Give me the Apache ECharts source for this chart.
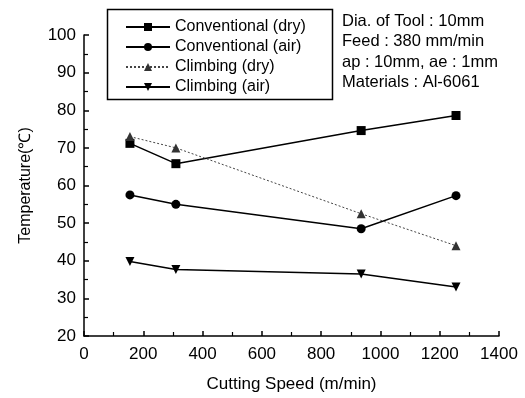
<!DOCTYPE html>
<html><head><meta charset="utf-8">
<script src="https://cdn.jsdelivr.net/npm/echarts@6/dist/echarts.min.js"></script>
<style>html,body{margin:0;padding:0;background:#fff}#c{width:525px;height:398px}</style>
</head><body><div id="c"></div>
<script>
const speeds = [155, 310, 935, 1255];
const convDry = [71.2, 65.8, 74.6, 78.6];
const convAir = [57.5, 55.0, 48.5, 57.3];
const climbDry = [73.0, 70.0, 52.5, 44.0];
const climbAir = [39.8, 37.7, 36.5, 33.0];
const seriesNames = ['Conventional (dry)', 'Conventional (air)', 'Climbing (dry)', 'Climbing (air)'];
const notes = ['Dia. of Tool : 10mm', 'Feed : 380 mm/min', 'ap : 10mm, ae : 1mm', 'Materials : Al-6061'];
const xTitle = 'Cutting Speed (m/min)';
const yTitle = 'Temperature(\u2103)';

const font = 'Liberation Sans, Arial, sans-serif';
const pair = arr => speeds.map((s, i) => [s, arr[i]]);
const chart = echarts.init(document.getElementById('c'), null, {renderer: 'canvas'});
const mk = (name, data, symbol, opts) => Object.assign({
  name, type: 'line', data: pair(data), symbol, symbolSize: 9,
  itemStyle: {color: '#000'}, lineStyle: {color: '#000', width: 1.5}, animation: false
}, opts || {});
chart.setOption({
  animation: false,
  grid: {left: 84, right: 26, top: 35, bottom: 59},
  legend: {
    orient: 'vertical', left: 120, top: 13, itemGap: 2, itemWidth: 44, itemHeight: 10,
    textStyle: {fontFamily: font, fontSize: 16, color: '#000', lineHeight: 18},
    data: seriesNames
  },
  xAxis: {
    type: 'value', min: 0, max: 1400, interval: 200,
    name: xTitle, nameLocation: 'middle', nameGap: 40,
    nameTextStyle: {fontFamily: font, fontSize: 17, color: '#000'},
    axisLine: {lineStyle: {color: '#000', width: 1.5}},
    axisTick: {inside: true, length: 5, lineStyle: {color: '#000', width: 1.5}},
    minorTick: {show: true, splitNumber: 2, length: 4, lineStyle: {color: '#000', width: 1.2}},
    axisLabel: {fontFamily: font, fontSize: 17, color: '#000', margin: 10, formatter: v => String(v)},
    splitLine: {show: false}
  },
  yAxis: {
    type: 'value', min: 20, max: 100, interval: 10,
    name: yTitle, nameLocation: 'middle', nameGap: 50,
    nameTextStyle: {fontFamily: font, fontSize: 16, color: '#000'},
    axisLine: {lineStyle: {color: '#000', width: 1.5}},
    axisTick: {inside: true, length: 5, lineStyle: {color: '#000', width: 1.5}},
    minorTick: {show: true, splitNumber: 2, length: 4, lineStyle: {color: '#000', width: 1.2}},
    axisLabel: {fontFamily: font, fontSize: 17, color: '#000', margin: 8},
    splitLine: {show: false}
  },
  graphic: [
    {type: 'rect', left: 105, top: 7, shape: {width: 225, height: 90},
     style: {fill: 'none', stroke: '#000', lineWidth: 1.5}, z: 0},
    ...notes.map((t, i) => ({type: 'text', left: 342, top: 13 + i * 20.3,
      style: {text: t, fontFamily: font, fontSize: 16.5, fill: '#000'}}))
  ],
  series: [
    mk(seriesNames[0], convDry, 'rect'),
    mk(seriesNames[1], convAir, 'circle'),
    mk(seriesNames[2], climbDry, 'triangle', {lineStyle: {color: '#444', width: 1, type: [2, 2]}, itemStyle: {color: '#333'}}),
    mk(seriesNames[3], climbAir, 'triangle', {symbolRotate: 180})
  ]
});
</script></body></html>
